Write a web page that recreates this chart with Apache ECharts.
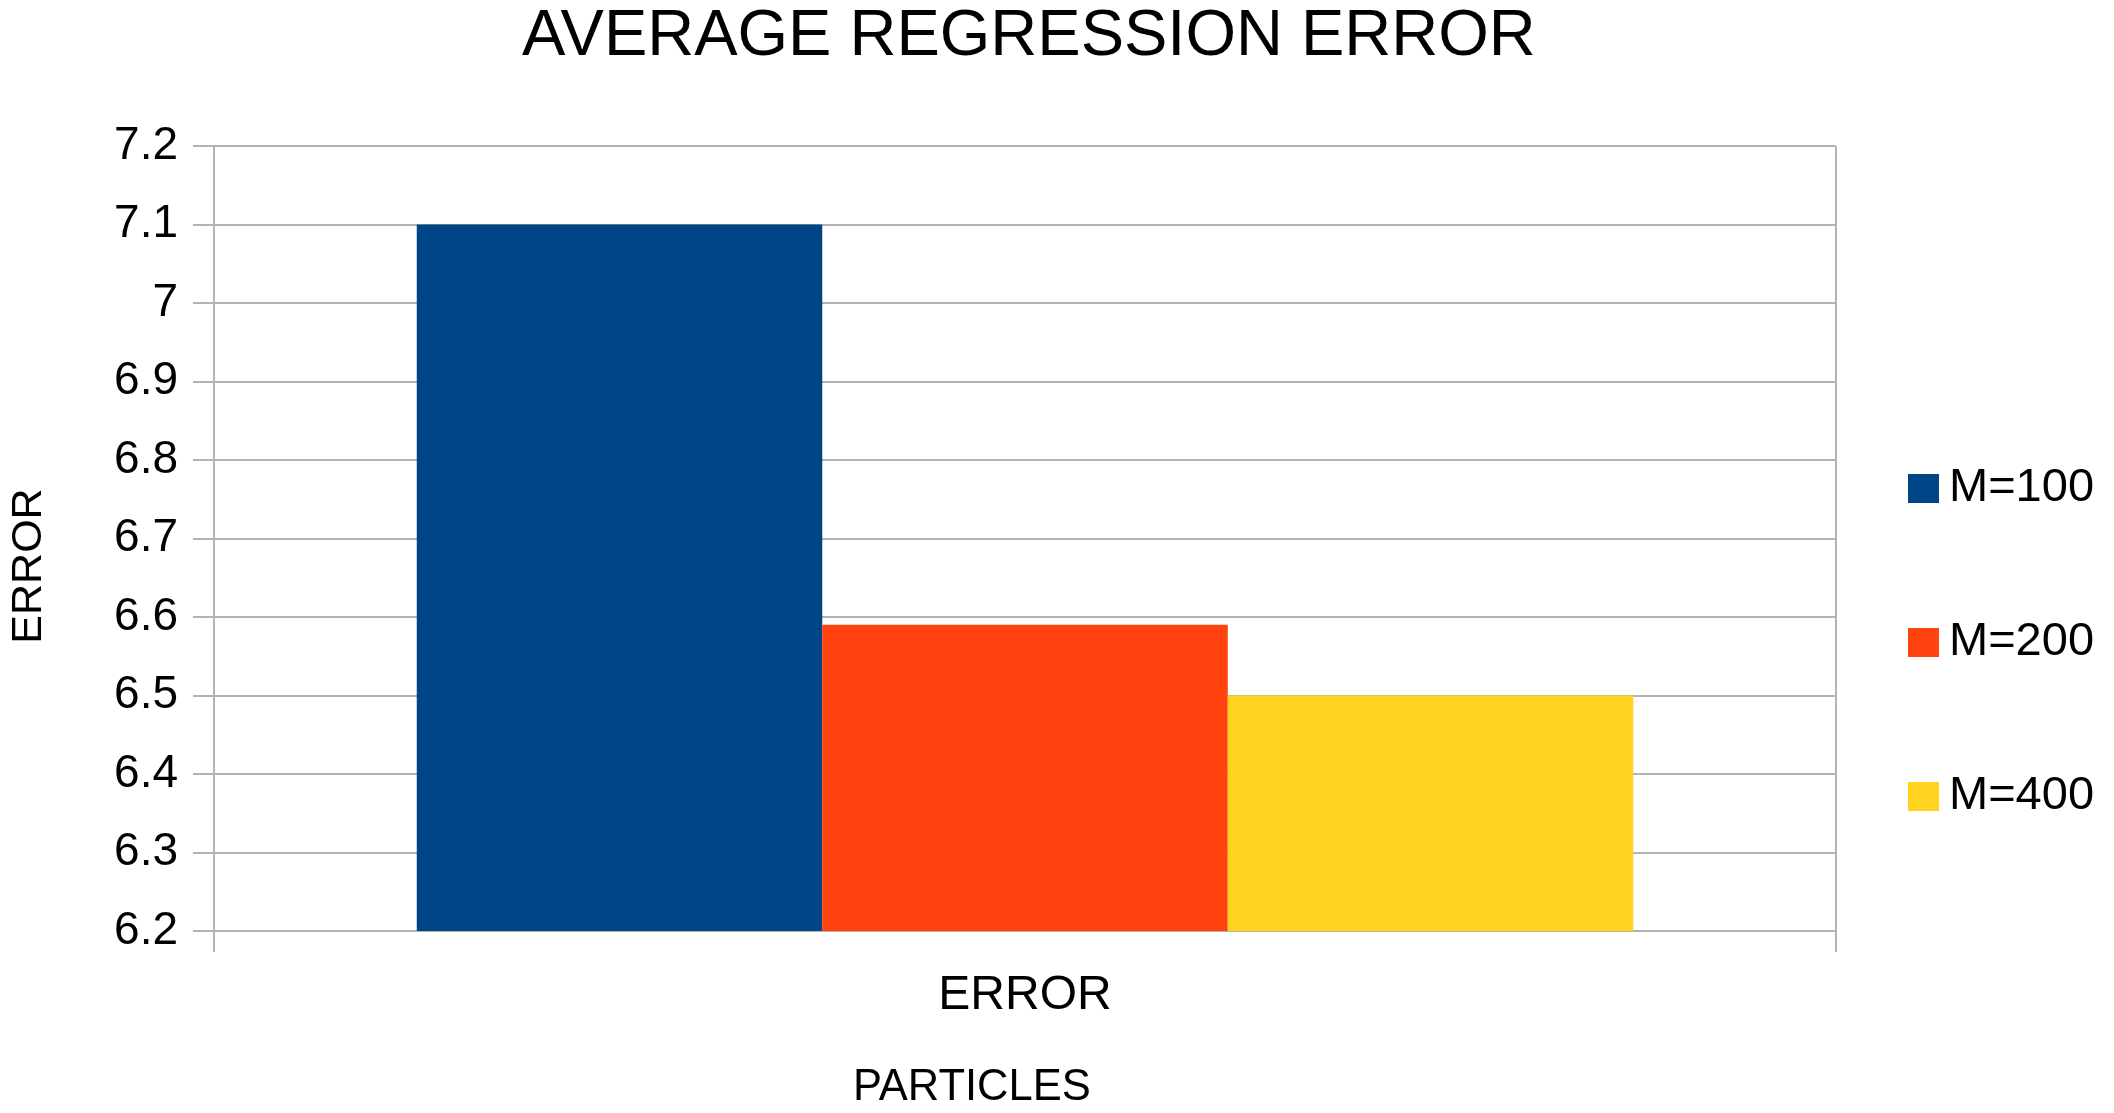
<!DOCTYPE html>
<html>
<head>
<meta charset="utf-8">
<script src="https://cdn.jsdelivr.net/npm/echarts@6/dist/echarts.min.js"></script>
<style>
html,body{margin:0;padding:0;background:#fff;}
#chart{width:2114px;height:1113px;}
</style>
</head>
<body>
<div id="chart"></div>
<script>
const categories = ['ERROR'];
const seriesNames = ['M=100', 'M=200', 'M=400'];
const m100 = [7.1];
const m200 = [6.59];
const m400 = [6.5];
const seriesValues = [m100, m200, m400];
const colors = ['#004586', '#ff420e', '#ffd320'];
const yMin = 6.2, yMax = 7.2, yStep = 0.1;

const FONT = '"Liberation Sans", Arial, sans-serif';
const chart = echarts.init(document.getElementById('chart'));
chart.setOption({
  animation: false,
  backgroundColor: '#ffffff',
  title: [
    { text: 'AVERAGE REGRESSION ERROR', left: 522, top: 5, padding: 0,
      textStyle: { fontFamily: FONT, fontSize: 65, fontWeight: 'normal', color: '#000' } },
    { text: 'PARTICLES', left: 853, top: 1066, padding: 0,
      textStyle: { fontFamily: FONT, fontSize: 43.5, fontWeight: 'normal', color: '#000' } }
  ],
  graphic: [
    { type: 'text', x: 29, y: 566, rotation: Math.PI / 2,
      style: { text: 'ERROR', font: '43px "Liberation Sans", Arial, sans-serif', fill: '#000',
               align: 'center', verticalAlign: 'middle' } }
  ],
  legend: {
    orient: 'vertical',
    left: 1903,
    top: 460,
    itemWidth: 31,
    itemHeight: 29,
    itemGap: 107,
    icon: 'rect',
    data: seriesNames,
    textStyle: { fontFamily: FONT, fontSize: 47, color: '#000', padding: [0, 0, 0, 5] }
  },
  grid: { left: 214, right: 278, top: 146, bottom: 182, containLabel: false },
  xAxis: {
    type: 'category',
    data: categories,
    boundaryGap: true,
    axisLine: { show: true, lineStyle: { color: '#b3b3b3', width: 2 } },
    axisTick: { show: true, length: 21, lineStyle: { color: '#b3b3b3', width: 2 } },
    axisLabel: { margin: 41, fontFamily: FONT, fontSize: 48, color: '#000' },
    splitLine: { show: true, lineStyle: { color: '#b3b3b3', width: 2 } }
  },
  yAxis: {
    type: 'value',
    min: yMin, max: yMax, interval: yStep,
    axisLine: { show: true, lineStyle: { color: '#b3b3b3', width: 2 } },
    axisTick: { show: true, length: 21, lineStyle: { color: '#b3b3b3', width: 2 } },
    axisLabel: { margin: 36, fontFamily: FONT, fontSize: 46, color: '#000',
      formatter: v => String(parseFloat(v.toFixed(1))) },
    splitLine: { show: true, lineStyle: { color: '#b3b3b3', width: 2 } }
  },
  series: seriesNames.map((name, i) => ({
    name: name,
    type: 'bar',
    data: seriesValues[i],
    barGap: '0%',
    barCategoryGap: '25%',
    itemStyle: { color: colors[i] }
  }))
});
</script>
</body>
</html>
